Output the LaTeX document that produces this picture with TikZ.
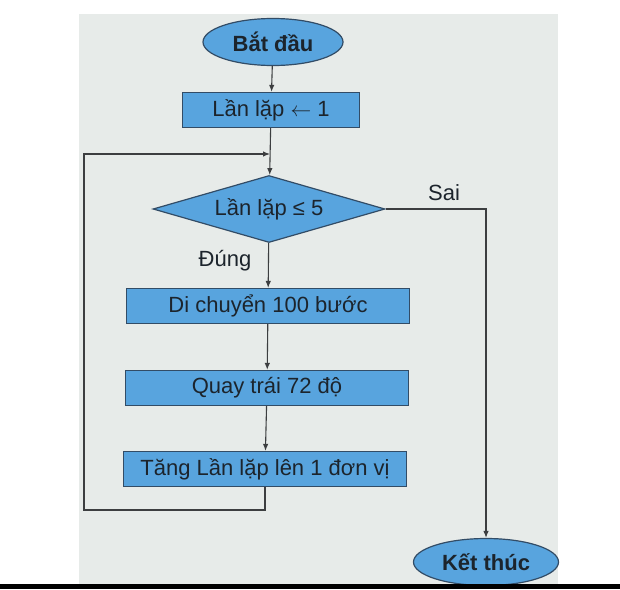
\documentclass[tikz,border=0pt]{standalone}
\usepackage{fontspec}
\setmainfont{Liberation Sans}
\usetikzlibrary{shapes.geometric,arrows.meta}
\definecolor{boxblue}{RGB}{88,164,222}
\definecolor{boxedge}{RGB}{50,76,102}
\definecolor{paper}{RGB}{231,235,233}
\definecolor{ink}{RGB}{60,62,64}
\definecolor{txt}{RGB}{28,36,44}
\newcommand{\flowfont}{\fontsize{22}{26}\selectfont}
\tikzset{
  terminal/.style={ellipse,draw=boxedge,fill=boxblue,line width=1.2pt,inner sep=0pt,
    minimum width=140pt,minimum height=47pt,font=\flowfont\bfseries,text=txt},
  process/.style={rectangle,draw=boxedge,fill=boxblue,line width=1.2pt,inner sep=0pt,
    minimum width=283pt,minimum height=35pt,font=\flowfont,text=txt},
  decision/.style={diamond,draw=boxedge,fill=boxblue,line width=1.2pt,inner sep=0pt,
    aspect=3.4,minimum width=232pt,minimum height=67pt,font=\flowfont,text=txt},
  flow/.style={draw=ink,line width=1.1pt,-{Latex[length=7pt,width=5.5pt]}},
  branch/.style={font=\flowfont,text=txt}
}

\begin{document}
\begin{tikzpicture}[x=1pt,y=-1pt]
    %page and photo
    \fill[white] (0,0) rectangle (620,589);
    \fill[paper] (79,14) rectangle (558,584);
    \useasboundingbox (0,0) rectangle (620,589);
    %steps
    \node[terminal] (start) at (273,42) {Bắt đầu};
    \node[process,minimum width=177pt] (init) at (271,110) {Lần lặp $\leftarrow$ 1};
    \coordinate (join) at (270,154);
    \node[decision] (cond) at (269,209) {Lần lặp ≤ 5};
    \node[process] (move) at (268,306) {Di chuyển 100 bước};
    \node[process] (turn) at (267,388) {Quay trái 72 độ};
    \node[process] (incr) at (265,469) {Tăng Lần lặp lên 1 đơn vị};
    \node[terminal,minimum width=145pt] (stop) at (486,562) {Kết thúc};
    \coordinate (loop) at (84,510);
    \node[branch] (sai) at (444,193) {Sai};
    \node[branch] (dung) at (225,261) {Đúng};
    %connectors
    \draw[flow] (start) -- (init);
    \draw[flow] (init) -- (cond);
    \draw[flow] (cond) -- (move);
    \draw[flow] (move) -- (turn);
    \draw[flow] (turn) -- (incr);
    \draw[flow] (incr.south) |- (loop) |- (join);
    \draw[flow] (cond.east) -| (stop.north);
    %bottom edge
    \fill[black] (0,584) rectangle (620,589);
\end{tikzpicture}
\end{document}
